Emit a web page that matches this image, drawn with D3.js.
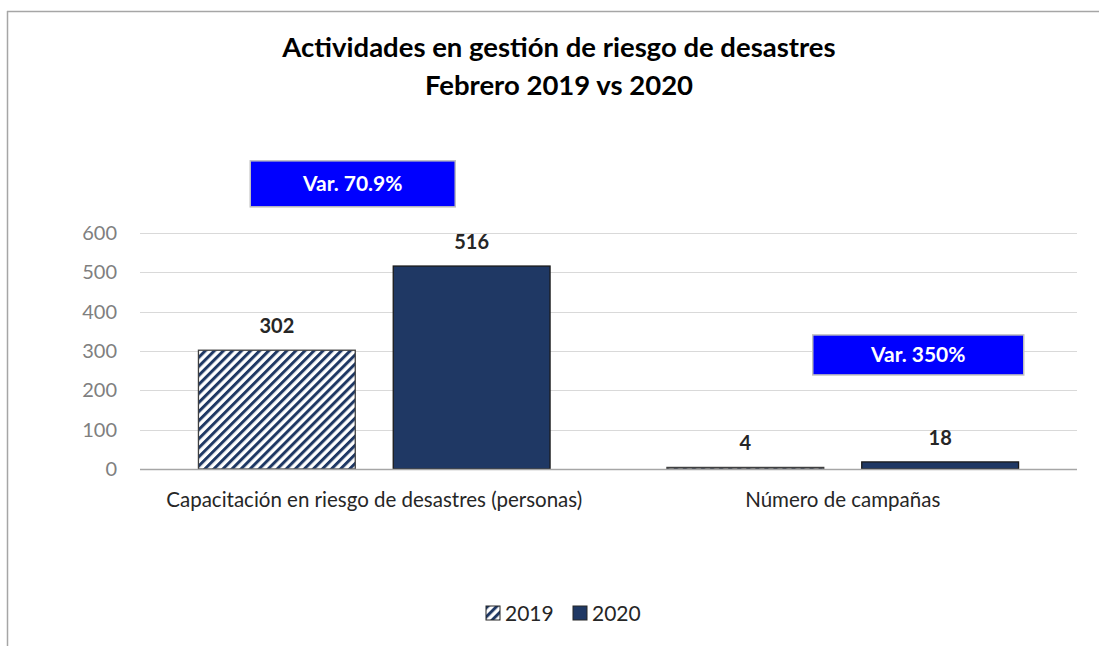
<!DOCTYPE html>
<head>
  <meta charset="utf-8">
  <script src="https://d3js.org/d3.v7.min.js"></script>
  <style type="text/css">
    body { margin:0; background:#fff; }
    text { font-family: Lato, "Open Sans", sans-serif; }
    .grid line { stroke: #d9d9d9; stroke-width: 1; }
    .tick text { fill: #7f7f7f; font-size: 20px; }
  </style>
</head>
<body>
  <script>

  var categories = ["Capacitación en riesgo de desastres (personas)", "Número de campañas"];
  var series = ["2019", "2020"];
  var values2019 = [302, 4];
  var values2020 = [516, 18];
  var variations = ["Var. 70.9%", "Var. 350%"];
  var yTicks = [0, 100, 200, 300, 400, 500, 600];

  var W = 1099, H = 646;
  var margin = {top: 233, right: 22, bottom: 177, left: 140};
  var width = W - margin.left - margin.right,
      height = H - margin.top - margin.bottom;

  var svg = d3.select("body").append("svg")
    .attr("width", W)
    .attr("height", H);

  // outer frame (only top and left visible)
  svg.append("line").attr("x1", 7).attr("x2", W).attr("y1", 11.5).attr("y2", 11.5)
    .attr("stroke", "#a6a6a6").attr("stroke-width", 1.5);
  svg.append("line").attr("x1", 7.5).attr("x2", 7.5).attr("y1", 11).attr("y2", H)
    .attr("stroke", "#a6a6a6").attr("stroke-width", 1.5);

  var defs = svg.append("defs");
  var pat = defs.append("pattern")
    .attr("id", "hatch")
    .attr("patternUnits", "userSpaceOnUse")
    .attr("width", 6.4).attr("height", 6.4)
    .attr("patternTransform", "rotate(45)");
  pat.append("rect").attr("width", 6.4).attr("height", 6.4).attr("fill", "#fff");
  pat.append("rect").attr("x", 0).attr("width", 3).attr("height", 6.4).attr("fill", "#1f3864");

  var g = svg.append("g")
    .attr("transform", "translate(" + margin.left + "," + margin.top + ")");

  var x0 = d3.scaleBand().domain(categories).range([0, width]);
  var x1 = d3.scaleBand().domain(series).range([0, x0.bandwidth()])
    .paddingInner(0.195).paddingOuter(0.3);
  var y = d3.scaleLinear().domain([0, 600]).range([height, 0]);

  // gridlines
  g.append("g").attr("class", "grid")
    .selectAll("line").data(yTicks.slice(1)).enter().append("line")
    .attr("x1", 0).attr("x2", width)
    .attr("y1", function(d) { return Math.round(y(d)) + 0.5; })
    .attr("y2", function(d) { return Math.round(y(d)) + 0.5; });

  var yAxis = g.append("g")
    .call(d3.axisLeft(y).tickValues(yTicks).tickSize(0).tickPadding(23));
  yAxis.select(".domain").remove();

  var data = [];
  categories.forEach(function(c, i) {
    data.push({cat: c, s: "2019", v: values2019[i]});
    data.push({cat: c, s: "2020", v: values2020[i]});
  });

  g.selectAll(".bar").data(data).enter().append("rect")
    .attr("class", "bar")
    .attr("x", function(d) { return x0(d.cat) + x1(d.s); })
    .attr("width", x1.bandwidth())
    .attr("y", function(d) { return y(d.v); })
    .attr("height", function(d) { return height - y(d.v); })
    .attr("fill", function(d) { return d.s == "2019" ? "url(#hatch)" : "#1f3864"; })
    .attr("stroke", function(d) { return d.s == "2019" ? "#404040" : "#1a1a1a"; })
    .attr("stroke-width", 1.3);

  // baseline
  g.append("line").attr("x1", 0).attr("x2", width)
    .attr("y1", height + 0.5).attr("y2", height + 0.5)
    .attr("stroke", "#a6a6a6").attr("stroke-width", 1.3);

  // data labels
  g.selectAll(".lbl").data(data).enter().append("text")
    .attr("x", function(d) { return x0(d.cat) + x1(d.s) + x1.bandwidth() / 2; })
    .attr("y", function(d) { return y(d.v) - 17; })
    .attr("text-anchor", "middle")
    .style("font-size", "20px").style("font-weight", "bold").style("fill", "#262626")
    .text(function(d) { return d.v; });

  // category labels
  g.selectAll(".cat").data(categories).enter().append("text")
    .attr("x", function(d) { return x0(d) + x0.bandwidth() / 2; })
    .attr("y", height + 38)
    .attr("text-anchor", "middle")
    .style("font-size", "20.5px").style("fill", "#262626")
    .text(function(d) { return d; });

  // variation boxes
  var boxes = [
    {t: variations[0], cat: categories[0], v: 725, h: 46, w: 205, dx: -21.5},
    {t: variations[1], cat: categories[1], v: 290, h: 40, w: 211, dx: 75.5}
  ];
  boxes.forEach(function(b) {
    var cx = x0(b.cat) + x0.bandwidth() / 2 + b.dx;
    var yc = y(b.v);
    g.append("rect")
      .attr("x", cx - b.w / 2).attr("y", yc - b.h / 2)
      .attr("width", b.w).attr("height", b.h)
      .attr("fill", "#0000ff").attr("stroke", "#bfbfbf").attr("stroke-width", 1.5);
    g.append("text")
      .attr("x", cx).attr("y", yc + 7)
      .attr("text-anchor", "middle")
      .style("font-size", "21px").style("font-weight", "bold").style("fill", "#fff")
      .text(b.t);
  });

  // title
  svg.append("text").attr("x", 559).attr("y", 57).attr("text-anchor", "middle")
    .style("font-size", "27.5px").style("font-weight", "bold").style("fill", "#000")
    .text("Actividades en gestión de riesgo de desastres");
  svg.append("text").attr("x", 559).attr("y", 95).attr("text-anchor", "middle")
    .style("font-size", "27.5px").style("font-weight", "bold").style("fill", "#000")
    .text("Febrero 2019 vs 2020");

  // legend
  var leg = svg.append("g").attr("transform", "translate(486,606)");
  series.forEach(function(s, i) {
    var lx = i * 87;
    leg.append("rect").attr("x", lx).attr("y", 0).attr("width", 14).attr("height", 14)
      .attr("fill", s == "2019" ? "url(#hatch)" : "#1f3864")
      .attr("stroke", "#262626").attr("stroke-width", 1);
    leg.append("text").attr("x", lx + 19).attr("y", 15)
      .style("font-size", "21px").style("fill", "#262626").text(s);
  });

  </script>
</body>
